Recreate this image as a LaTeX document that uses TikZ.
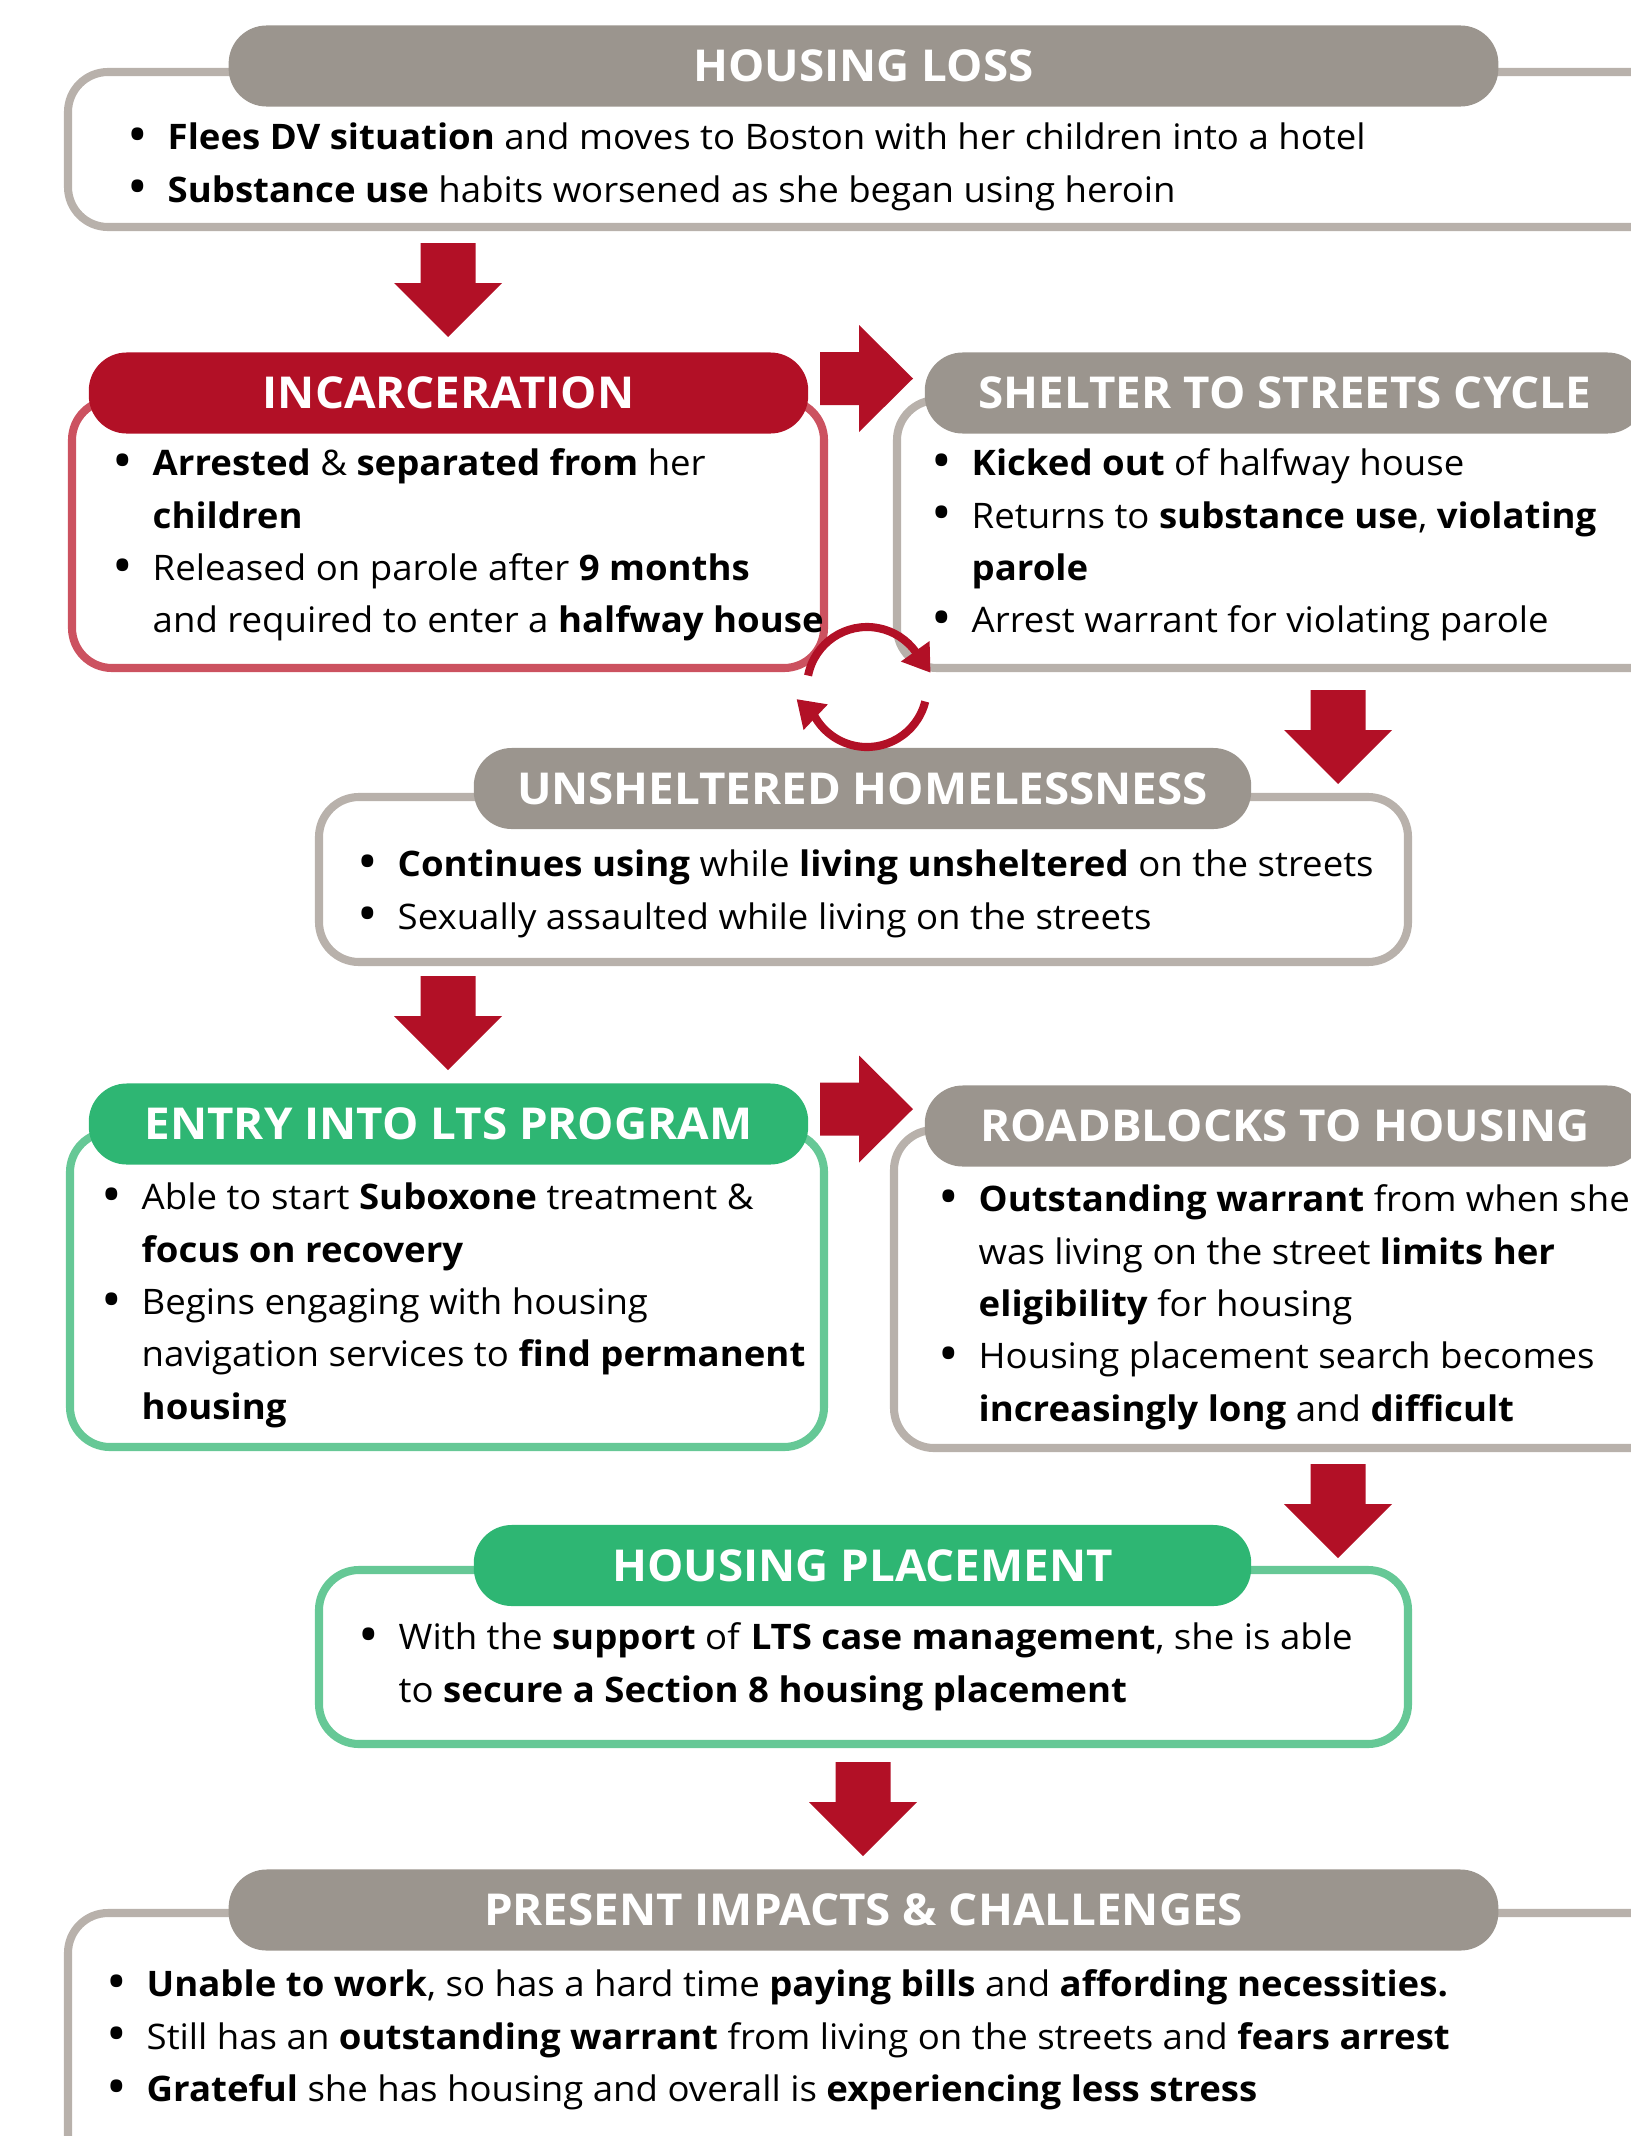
\documentclass[tikz,border=0pt]{standalone}
\usepackage{fontspec}
\setmainfont{Open Sans}[FakeStretch=1.04]
\usetikzlibrary{arrows.meta}

\definecolor{pillgray}{RGB}{155,149,142}
\definecolor{framegray}{RGB}{184,177,171}
\definecolor{darkred}{RGB}{178,16,38}
\definecolor{framered}{RGB}{204,82,96}
\definecolor{pillgreen}{RGB}{46,182,115}
\definecolor{framegreen}{RGB}{102,200,150}

\newcommand{\bitem}{\makebox[0.40cm][l]{\raisebox{-1.1pt}{\scalebox{1.5}{\textbullet}}}}
\newcommand{\bcont}{\hspace*{0.40cm}}
\newcommand{\firstline}{\rule{0pt}{8pt}}

\tikzset{
  headpill/.style={rounded corners=0.38cm, inner sep=0pt, minimum height=0.81cm,
    text=white, font=\fontsize{12.5}{14}\selectfont\bfseries},
  boxline/.style={line width=2.3pt, rounded corners=0.4cm},
  bodytext/.style={anchor=north west, inner sep=0pt, align=left,
    font=\fontsize{10}{14.88}\selectfont},
  cyc/.style={draw=darkred, line width=2.3pt, -{Triangle[length=7.5pt,width=9.5pt]}},
  downblk/.pic={\fill[darkred] (-27.5,0) -- (27.5,0) -- (27.5,40) -- (54,40) -- (0,94)
    -- (-54,40) -- (-27.5,40) -- cycle;},
  rightblk/.pic={\fill[darkred] (0,-26.5) -- (39,-26.5) -- (39,-53.5) -- (93,0)
    -- (39,53.5) -- (39,26.5) -- (0,26.5) -- cycle;}
}

\begin{document}
\begin{tikzpicture}[x=0.01cm, y=-0.01cm]
\clip (0,0) rectangle (1631,2136);

% housing loss
\draw[boxline, draw=framegray] (68,72) rectangle (1700,227);
\node[headpill, fill=pillgray, minimum width=12.69cm] (losshead) at (863.5,66) {HOUSING LOSS};
\node[bodytext] (lossbody) at (127,120.9) {\firstline\bitem\textbf{Flees DV situation} and moves to Boston with her children into a hotel\\
\bitem\textbf{Substance use} habits worsened as she began using heroin};

% incarceration
\draw[boxline, draw=framered] (72,400) rectangle (824,668);
\node[headpill, fill=darkred, minimum width=7.19cm] (inchead) at (448.5,393) {INCARCERATION};
\node[bodytext] (incbody) at (112,446.9) {\firstline\bitem\textbf{Arrested} \& \textbf{separated from} her\\
\bcont\textbf{children}\\
\bitem Released on parole after \textbf{9 months}\\
\bcont and required to enter a \textbf{halfway house}};

% shelter to streets
\draw[boxline, draw=framegray] (897,400) rectangle (1700,668);
\node[headpill, fill=pillgray, minimum width=7.20cm] (shelhead) at (1285,393) {SHELTER TO STREETS CYCLE};
\node[bodytext] (shelbody) at (931,446.9) {\firstline\bitem\textbf{Kicked out} of halfway house\\
\bitem Returns to \textbf{substance use}, \textbf{violating}\\
\bcont\textbf{parole}\\
\bitem Arrest warrant for violating parole};

% unsheltered
\draw[boxline, draw=framegray] (319,797) rectangle (1408,962);
\node[headpill, fill=pillgray, minimum width=7.77cm] (unshhead) at (862.5,788.5) {UNSHELTERED HOMELESSNESS};
\node[bodytext] (unshbody) at (357,847.9) {\firstline\bitem\textbf{Continues using} while \textbf{living unsheltered} on the streets\\
\bitem Sexually assaulted while living on the streets};

% entry into lts
\draw[boxline, draw=framegreen] (70,1132) rectangle (824,1447);
\node[headpill, fill=pillgreen, minimum width=7.19cm] (entryhead) at (448.5,1124) {ENTRY INTO LTS PROGRAM};
\node[bodytext] (entrybody) at (101,1180.9) {\firstline\bitem Able to start \textbf{Suboxone} treatment \&\\
\bcont\textbf{focus on recovery}\\
\bitem Begins engaging with housing\\
\bcont navigation services to \textbf{find permanent}\\
\bcont\textbf{housing}};

% roadblocks
\draw[boxline, draw=framegray] (894,1130) rectangle (1700,1448);
\node[headpill, fill=pillgray, minimum width=7.20cm] (roadhead) at (1285,1126) {ROADBLOCKS TO HOUSING};
\node[bodytext] (roadbody) at (938,1182.9) {\firstline\bitem\textbf{Outstanding warrant} from when she\\
\bcont was living on the street \textbf{limits her}\\
\bcont\textbf{eligibility} for housing\\
\bitem Housing placement search becomes\\
\bcont\textbf{increasingly long} and \textbf{difficult}};

% housing placement
\draw[boxline, draw=framegreen] (319,1570) rectangle (1408,1744);
\node[headpill, fill=pillgreen, minimum width=7.77cm] (placehead) at (862.5,1565.5) {HOUSING PLACEMENT};
\node[bodytext] (placebody) at (358,1620.9) {\firstline\bitem With the \textbf{support} of \textbf{LTS case management}, she is able\\
\bcont to \textbf{secure a Section 8 housing placement}};

% present impacts
\draw[boxline, draw=framegray] (68,1913) rectangle (1700,2250);
\node[headpill, fill=pillgray, minimum width=12.69cm] (nowhead) at (863.5,1910) {PRESENT IMPACTS \& CHALLENGES};
\node[bodytext] (nowbody) at (106,1967.9) {\firstline\bitem\textbf{Unable to work}, so has a hard time \textbf{paying bills} and \textbf{affording necessities.}\\
\bitem Still has an \textbf{outstanding warrant} from living on the streets and \textbf{fears arrest}\\
\bitem\textbf{Grateful} she has housing and overall is \textbf{experiencing less stress}};

% block arrows
\pic at (448,243) {downblk};
\pic at (820,378.5) {rightblk};
\pic at (1338,690) {downblk};
\pic at (448,976) {downblk};
\pic at (820,1109) {rightblk};
\pic at (1338,1464) {downblk};
\pic at (863,1762) {downblk};

% cycle
\draw[cyc] (867,687) ++(191:60) arc[start angle=191, end angle=324, radius=60] -- ++(15,21);
\draw[cyc] (867,687) ++(14:60) arc[start angle=14, end angle=151, radius=60] -- ++(-18,-17);
\end{tikzpicture}
\end{document}
